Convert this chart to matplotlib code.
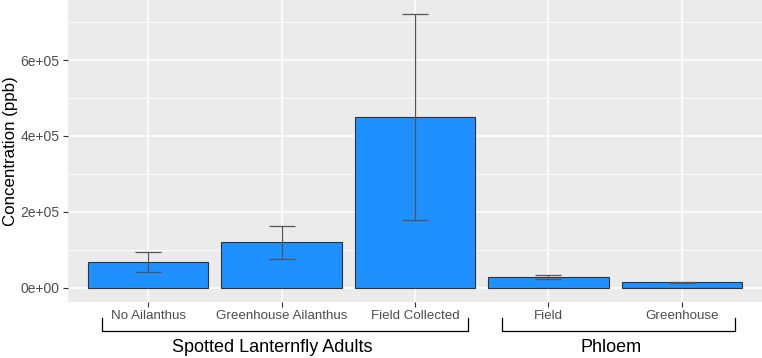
import numpy as np
import matplotlib
matplotlib.use("Agg")
import matplotlib.pyplot as plt
from matplotlib.ticker import FixedLocator
import matplotlib.transforms as mtransforms

plt.rcParams['font.family'] = ['Liberation Sans', 'DejaVu Sans']

categories = ["No Ailanthus", "Greenhouse Ailanthus", "Field Collected", "Field", "Greenhouse"]
means = [68000, 120000, 449000, 28500, 15000]
errors = [27000, 43000, 271000, 4500, 1500]
groups = ["Spotted Lanternfly Adults", "Phloem"]
group_members = [(1, 3), (4, 5)]
yticks = [0, 200000, 400000, 600000]
yticklabels = ["0e+00", "2e+05", "4e+05", "6e+05"]

x = np.arange(1, len(categories) + 1)

fig = plt.figure(figsize=(7.62, 3.58), dpi=100)
ax = fig.add_axes([68 / 762, 56 / 358, 1 - 68 / 762, 302 / 358])
ax.set_facecolor("#EBEBEB")

ax.bar(x, means, width=0.9, color="#1E90FF", edgecolor="#333333", linewidth=0.8, zorder=2)
ax.errorbar(x, means, yerr=errors, fmt="none", ecolor="#555555", elinewidth=0.9,
            capsize=9.7, capthick=0.9, zorder=3)

ax.set_xlim(0.4, 5.6)
ax.set_ylim(-37000, 758000)
ax.set_yticks(yticks)
ax.set_yticklabels(yticklabels)
ax.yaxis.set_minor_locator(FixedLocator([100000, 300000, 500000, 700000]))
ax.set_xticks(x)
ax.set_xticklabels(categories)
ax.grid(which="major", color="white", linewidth=1.1, zorder=0)
ax.grid(which="minor", axis="y", color="white", linewidth=0.55, zorder=0)
ax.set_axisbelow(True)
for s in ax.spines.values():
    s.set_visible(False)
ax.tick_params(axis="both", which="major", length=3.5, color="#333333", width=0.8,
               labelsize=9.6, labelcolor="#4D4D4D", pad=2.5)
ax.tick_params(axis="y", labelsize=10)
ax.tick_params(which="minor", length=0)
ax.set_ylabel("Concentration (ppb)", fontsize=12.2, color="black", labelpad=2)

# group brackets below the tick labels
trans = mtransforms.blended_transform_factory(ax.transData, ax.transAxes)
y_top = -16 / 302
y_bot = -29 / 302
label_x = [1.93, 4.47]
for name, (a, b), lx in zip(groups, group_members, label_x):
    x0 = a - 0.345
    x1 = b + 0.4
    ax.plot([x0, x0, x1, x1], [y_top, y_bot, y_bot, y_top], color="black",
            linewidth=0.9, transform=trans, clip_on=False)
    ax.text(lx, -45 / 302, name, transform=trans, ha="center", va="center",
            fontsize=13, color="black")

fig.savefig("out.png", dpi=100)
